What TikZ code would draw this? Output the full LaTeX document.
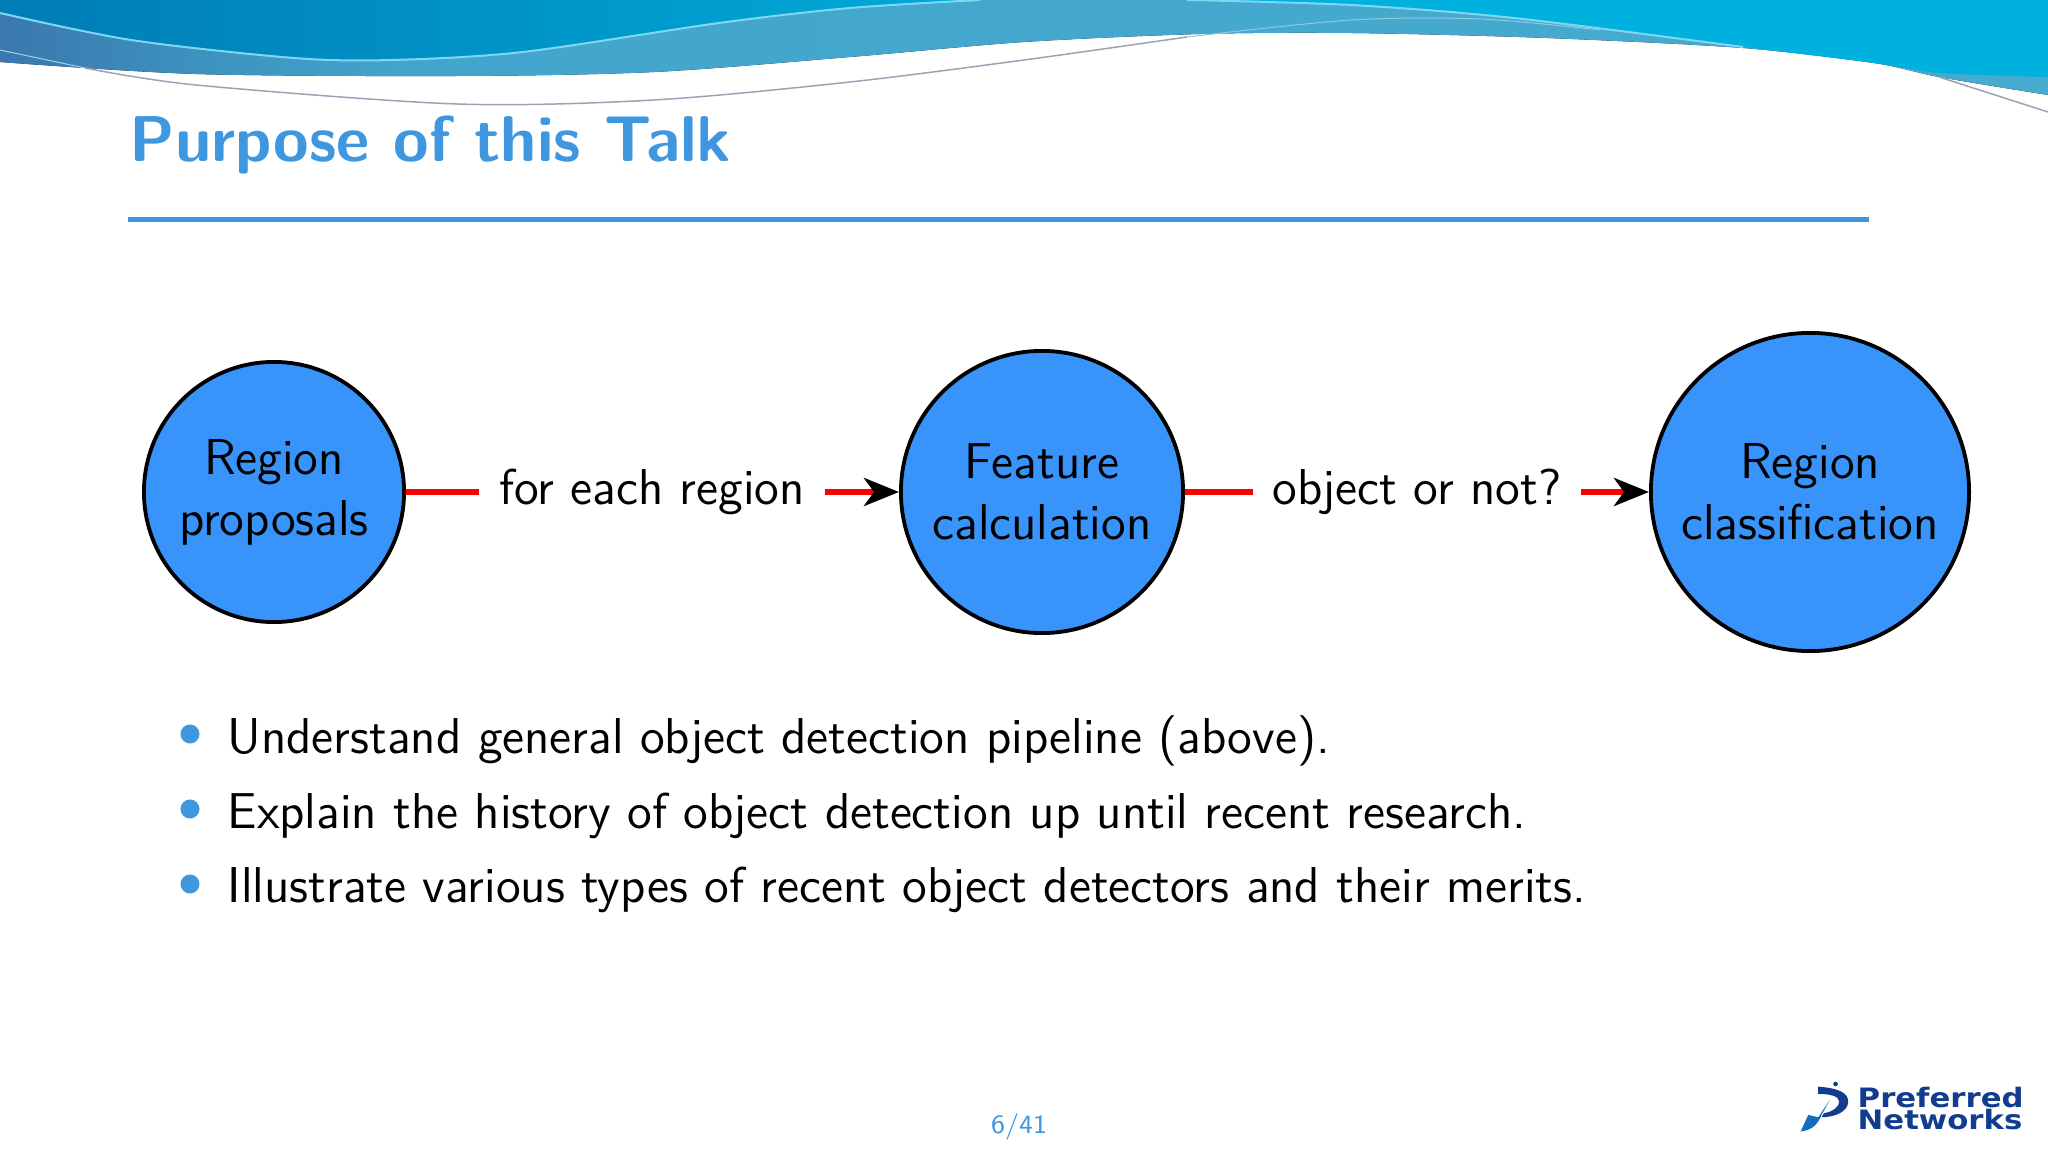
\documentclass[tikz,border=0pt]{standalone}
\usepackage{fontspec}
\usetikzlibrary{arrows.meta}
\newfontfamily\logofont[FakeStretch=1.15]{DejaVu Sans}
\definecolor{titleblue}{HTML}{3F97DF}
\definecolor{circleblue}{HTML}{3894FA}
\definecolor{logoblue}{HTML}{123C8E}
\definecolor{logolight}{HTML}{146EBE}
\definecolor{bandleft}{HTML}{3A78AE}
\definecolor{bandpart}{HTML}{3D93BF}
\definecolor{bandmid}{HTML}{42A5CD}
\definecolor{bandright}{HTML}{47ABCF}
\definecolor{darkleft}{HTML}{007CB6}
\definecolor{darkright}{HTML}{00AAD8}
\definecolor{darktop}{HTML}{00B0DE}
\definecolor{wavelight}{HTML}{7FD8F2}
\definecolor{wavegrey}{HTML}{9AA3B5}
\pgfdeclarehorizontalshading{bandshade}{100bp}{color(0bp)=(bandleft); color(25bp)=(bandleft); color(30bp)=(bandpart); color(35bp)=(bandmid); color(75bp)=(bandright); color(100bp)=(bandright)}
\tikzset{
  stage/.style = {circle, draw = black, fill = circleblue, line width = 0.038cm, align = center, inner sep = 0pt, font = \sffamily\fontsize{14.33}{17.3}\selectfont},
  flowtext/.style = {inner sep = 0.19cm, font = \sffamily\fontsize{14.33}{17}\selectfont},
  flowline/.style = {red, line width = 0.055cm},
  flowarrow/.style = {flowline, -{Stealth[black, length = 0.35cm, width = 0.28cm, inset = 0.1cm]}},
  dotmark/.style = {circle, fill = titleblue, minimum size = 0.19cm, inner sep = 0pt},
  itemtext/.style = {anchor = base west, inner sep = 0pt, font = \sffamily\fontsize{14.33}{17}\selectfont},
  logotext/.style = {anchor = north west, inner sep = 0pt, align = left, text = logoblue, font = \logofont\bfseries\fontsize{7.6}{5.7}\selectfont}
}
\begin{document}
\begin{tikzpicture}[x = 0.01cm, y = -0.01cm]
\useasboundingbox (0,0) rectangle (2048,1152);
% header waves
\fill [shading = bandshade] (0,0) -- plot [smooth] coordinates {(0,62) (196,74) (457,76) (654,72) (850,57) (1024,42) (1200,34) (1351,33) (1547,38) (1743,48) (1874,63) (1939,77) (2048,95)} -- (2048,0) -- cycle;
\fill [left color = darkleft, right color = darkright] (0,0) -- plot [smooth] coordinates {(0,13) (131,40) (294,58) (392,60) (523,52) (719,23) (850,8) (980,0)} -- cycle;
\fill [darktop] plot [smooth] coordinates {(1187,0) (1351,5) (1514,18) (1743,47) (1874,63) (1939,73) (2048,77)} -- (2048,0) -- cycle;
\draw [wavelight, line width = 0.02cm] plot [smooth] coordinates {(0,13) (131,40) (294,58) (392,60) (523,52) (719,23) (850,8) (980,0)};
\draw [wavelight, line width = 0.02cm] plot [smooth] coordinates {(1187,0) (1351,5) (1514,18) (1743,47)};
\draw [white!50!bandmid, line width = 0.01cm] plot [smooth] coordinates {(0,50) (85,68)};
\draw [wavegrey, line width = 0.015cm] plot [smooth] coordinates {(85,68) (196,85) (457,104) (654,100) (850,82) (1024,60) (1187,37)};
\draw [white!40!bandmid, line width = 0.01cm] plot [smooth] coordinates {(1187,37) (1351,20) (1481,19) (1600,30)};
\draw [wavegrey, line width = 0.015cm] (1939,77) -- (2048,112);
% title
\node [anchor = base west, inner sep = 0pt, text = titleblue, font = \sffamily\bfseries\fontsize{18.4}{22}\selectfont] (title) at (129,162) {Purpose of this Talk};
\fill [titleblue] (128,217) rectangle (1869,222);
% pipeline
\node [stage, minimum size = 2.6cm] (proposals) at (274,492) {Region\\proposals};
\node [stage, minimum size = 2.82cm] (feature) at (1042,492) {Feature\\calculation};
\node [stage, minimum size = 3.18cm] (classify) at (1810,492) {Region\\classification};
\node [flowtext] (eachregion) at (652,492) {for each region};
\node [flowtext] (objectnot) at (1417,492) {object or not?};
\draw [flowline] (proposals) -- (eachregion);
\draw [flowarrow] (eachregion) -- (feature);
\draw [flowline] (feature) -- (objectnot);
\draw [flowarrow] (objectnot) -- (classify);
% items
\node [dotmark] (dota) at (190,734) {};
\node [dotmark] (dotb) at (190,809) {};
\node [dotmark] (dotc) at (190,884) {};
\node [itemtext] (itema) at (227,753) {Understand general object detection pipeline (above).};
\node [itemtext] (itemb) at (227,828) {Explain the history of object detection up until recent research.};
\node [itemtext] (itemc) at (227,902) {Illustrate various types of recent object detectors and their merits.};
% footer
\node [text = titleblue, inner sep = 0pt, font = \sffamily\fontsize{7.5}{9}\selectfont] (pagenum) at (1019,1127) {6/41};
\node [logotext] (logoname) at (1857,1086) {Preferred\\[-0.4pt]Networks};
\begin{scope}[shift = {(1750,1060)}, x = 0.00333cm, y = -0.00333cm]
\fill [logoblue] (205,80) .. controls (270,85) and (295,100) .. (295,125) .. controls (295,155) and (255,172) .. (215,172) -- (222,160) .. controls (250,155) and (268,140) .. (268,125) .. controls (268,108) and (240,102) .. (205,102) -- cycle;
\fill [logolight] (240,120) -- (215,165) .. controls (205,190) and (190,210) .. (152,215) -- (175,165) -- (205,172) -- cycle;
\fill [logoblue] (257,72) circle (7);
\end{scope}
\end{tikzpicture}
\end{document}
